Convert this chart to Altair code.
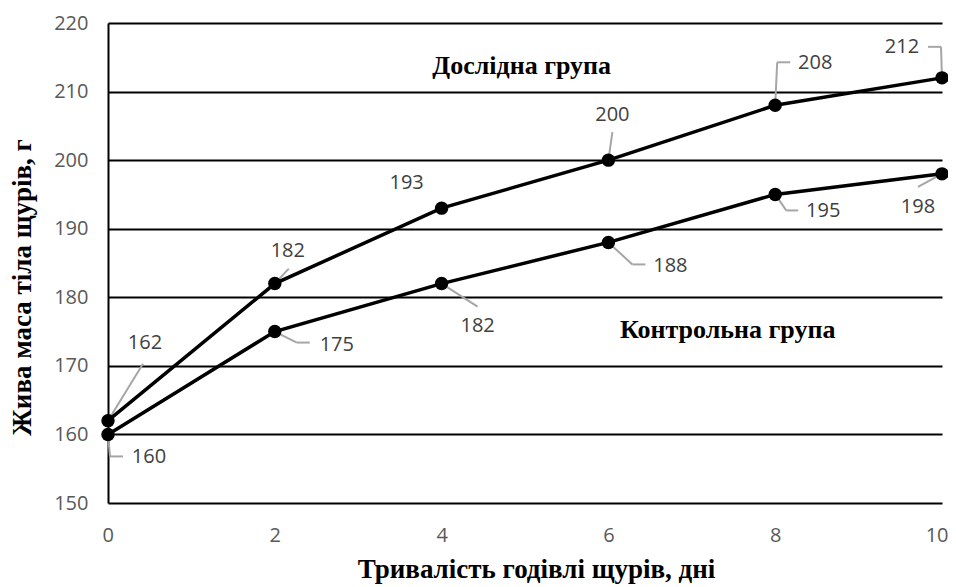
import altair as alt
import pandas as pd

# ---- data ----
days = [0, 2, 4, 6, 8, 10]
exp_mass = [162, 182, 193, 200, 208, 212]
ctrl_mass = [160, 175, 182, 188, 195, 198]
series_names = ["Дослідна група", "Контрольна група"]

group_label_x = [4.96, 7.43]
group_label_y = [213.7, 175.2]

# ---- style: pixel offsets of labels and leader lines (relative to each point) ----
exp_label_off = [(37, -78), (13, -33), (-35, -25), (4, -45), (40, -42), (-40, -31)]
exp_corner_off = [(35, -57), (14, -15), (0, 0), (4, -28), (2, -43), (-1, -31)]
exp_end_off = [(35, -57), (14, -15), (0, 0), (4, -28), (15, -43), (-14, -31)]
ctrl_label_off = [(41, 23), (62, 13), (36, 42), (62, 24), (48, 17), (-24, 33)]
ctrl_corner_off = [(2, 22), (22, 11), (36, 23), (24, 22), (11, 16), (-24, 13)]
ctrl_end_off = [(15, 22), (35, 11), (36, 23), (37, 22), (23, 16), (-24, 13)]

W, H = 834, 480
XMIN, XMAX, YMIN, YMAX = 0, 10, 150, 220
PX = W / (XMAX - XMIN)
PY = H / (YMAX - YMIN)

rows = []
for name, vals, lo, co, eo in [
    (series_names[0], exp_mass, exp_label_off, exp_corner_off, exp_end_off),
    (series_names[1], ctrl_mass, ctrl_label_off, ctrl_corner_off, ctrl_end_off),
]:
    for d, v, l, c, e in zip(days, vals, lo, co, eo):
        rows.append(dict(series=name, x=d, y=v, lx=l[0], ly=l[1],
                         cx=c[0], cy=c[1], ex=e[0], ey=e[1]))
df = pd.DataFrame(rows)
gdf = pd.DataFrame(dict(name=series_names, x=group_label_x, y=group_label_y))

xs = alt.Scale(domain=[XMIN, XMAX], nice=False, zero=False)
ys = alt.Scale(domain=[YMIN, YMAX], nice=False, zero=False)

base = alt.Chart(df).transform_calculate(
    xl=f"datum.x + datum.lx / {PX}", yl=f"datum.y - datum.ly / {PY}",
    xc=f"datum.x + datum.cx / {PX}", yc=f"datum.y - datum.cy / {PY}",
    xe=f"datum.x + datum.ex / {PX}", ye=f"datum.y - datum.ey / {PY}",
)

lines = base.mark_line(color="black", strokeWidth=3.5).encode(
    x=alt.X("x:Q", scale=xs, axis=alt.Axis(
        title="Тривалість годівлі щурів, дні", values=[0, 2, 4, 6, 8, 10],
        format="d", grid=False, ticks=False, domain=False, labelPadding=22,
        labelFlush=True, labelFlushOffset=6, titlePadding=11, titleX=428)),
    y=alt.Y("y:Q", scale=ys, axis=alt.Axis(
        title="Жива маса тіла щурів, г", values=list(range(150, 221, 10)),
        format="d", grid=True, gridColor="black", gridWidth=2, ticks=False,
        domain=True, domainColor="black", domainWidth=2, labelPadding=20,
        labelFlush=False, titlePadding=17, titleY=264)),
    detail="series:N",
)

points = base.mark_circle(color="black", size=180, opacity=1).encode(
    x=alt.X("x:Q", scale=xs), y=alt.Y("y:Q", scale=ys))

lead1 = base.mark_rule(color="#a6a6a6", strokeWidth=2).encode(
    x=alt.X("x:Q", scale=xs), y=alt.Y("y:Q", scale=ys),
    x2="xc:Q", y2="yc:Q")
lead2 = base.mark_rule(color="#a6a6a6", strokeWidth=2).encode(
    x=alt.X("xc:Q", scale=xs), y=alt.Y("yc:Q", scale=ys),
    x2="xe:Q", y2="ye:Q")

labels = base.mark_text(font="Open Sans", fontSize=20, color="#404040",
                        baseline="middle", align="center").encode(
    x=alt.X("xl:Q", scale=xs), y=alt.Y("yl:Q", scale=ys), text="y:Q")

glabels = alt.Chart(gdf).mark_text(font="Liberation Serif", fontSize=26,
                                   fontWeight="bold", color="black",
                                   baseline="middle", align="center").encode(
    x=alt.X("x:Q", scale=xs), y=alt.Y("y:Q", scale=ys), text="name:N")

chart = alt.layer(lead1, lead2, lines, points, labels, glabels).properties(
    width=W, height=H,
    autosize=alt.AutoSizeParams(type="none"),
    padding={"left": 100, "top": 15, "right": 6, "bottom": 82},
).configure_view(stroke=None).configure_axis(
    labelFont="Open Sans", labelFontSize=20, labelColor="#595959",
    titleFont="Liberation Serif", titleFontSize=27, titleFontWeight="bold",
    titleColor="black",
)

chart.save("out.html", embed_options={"renderer": "svg", "actions": False})
